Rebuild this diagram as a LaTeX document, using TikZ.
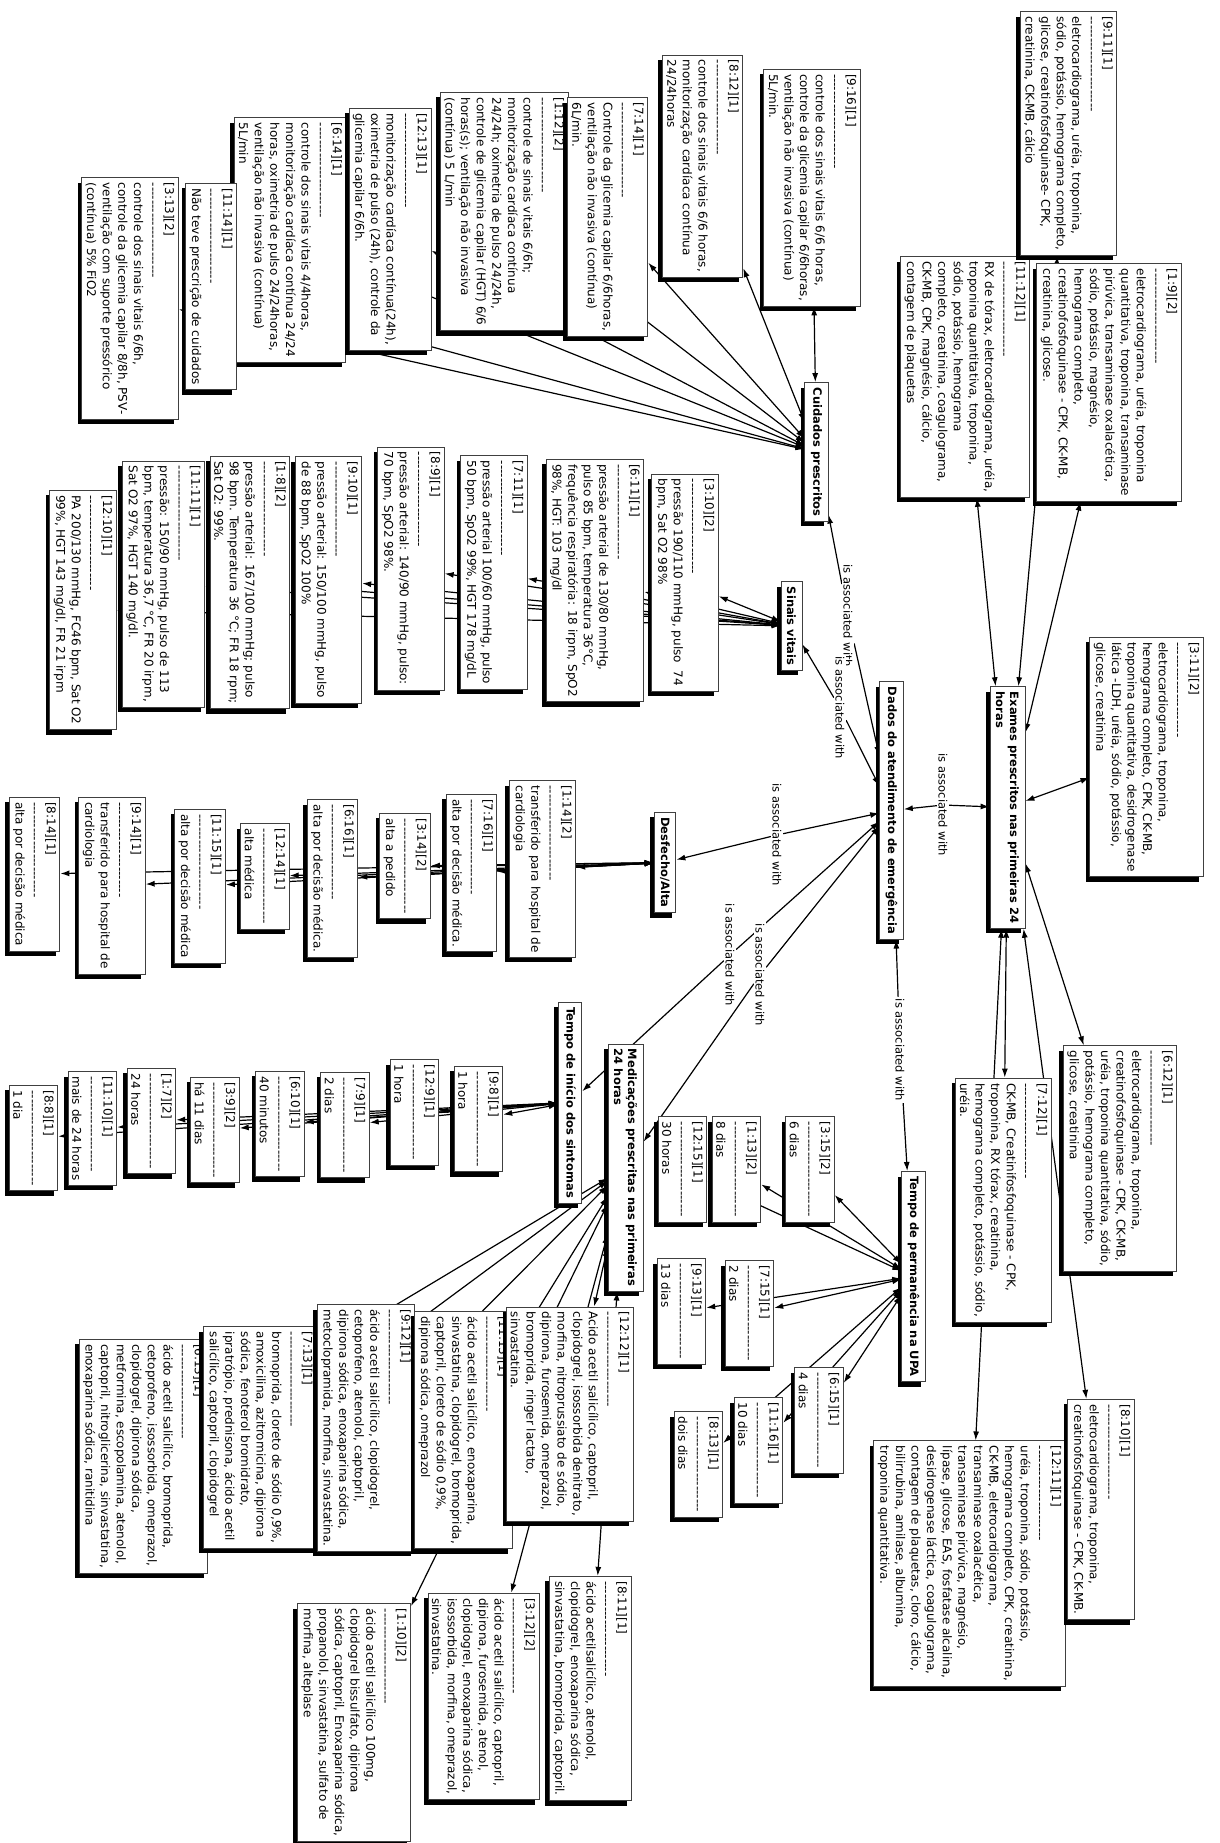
\documentclass[tikz,border=0pt]{standalone}
\usepackage{fontspec}
\setmainfont{DejaVu Sans}
\usetikzlibrary{shadows,arrows.meta}
\pgfdeclarelayer{paper}
\pgfdeclarelayer{links}
\pgfsetlayers{paper,links,main}
\newcommand\dsh{-{}-{}-{}-{}-{}-{}-{}-{}-{}-{}-{}-{}-{}-{}-{}-{}-{}-{}-{}-{}-{}-{}}
\tikzset{
  card/.style={draw=black!75, line width=0.9pt, fill=white, rotate=-90, align=left,
    font=\fontsize{12}{15.6}\selectfont, inner xsep=5pt, inner ysep=4pt,
    drop shadow={shadow xshift=-4pt, shadow yshift=-5pt, fill=black, opacity=1}},
  concept/.style={card, font=\fontsize{11.5}{14}\selectfont\bfseries, inner xsep=5pt, inner ysep=6pt},
  phrase/.style={rotate=-90, fill=white, inner sep=1.5pt, font=\fontsize{11.5}{14}\selectfont},
  link/.style={line width=1.2pt, {Latex[length=9pt,width=6pt]}-{Latex[length=9pt,width=6pt]}},
  tolink/.style={line width=1.2pt, -{Latex[length=9pt,width=6pt]}},
}
\begin{document}
\begin{tikzpicture}[x=1pt,y=-1pt]
\begin{pgfonlayer}{paper}
\fill[white] (0,0) rectangle (1219,1843);
\end{pgfonlayer}
\useasboundingbox (0,0) rectangle (1219,1843);

% ---------- main concepts ----------
\node[concept] (dados) at (891.5,810.5) {Dados do atendimento de emergência};
\node[concept] (exames) at (1007.5,807.5) {Exames prescritos nas primeiras 24\\horas};
\node[concept] (cuid) at (816.5,452) {Cuidados prescritos};
\node[concept] (sinais) at (791.5,626) {Sinais vitais};
\node[concept] (desf) at (665,862.5) {Desfecho/Alta};
\node[concept] (tini) at (570,1102.5) {Tempo de início dos sintomas};
\node[concept] (med) at (625.5,1167.5) {Medicações prescritas nas primeiras\\24 horas};
\node[concept] (tperm) at (913.5,1276.5) {Tempo de permanência na UPA};

% ---------- linking phrases ----------
\node[phrase] (l1) at (848,616) {is associated with};
\node[phrase] (l2) at (840,708) {is associated with};
\node[phrase] (l3) at (777,835) {is associated with};
\node[phrase] (l4) at (760,975) {is associated with};
\node[phrase] (l5) at (730,955) {is associated with};
\node[phrase] (l6) at (943,805) {is associated with};
\node[phrase] (l7) at (900,1050) {is associated with};

% ---------- cuidados ----------
\node[card] (c313) at (130,298.5) {[3:13][2]\\\dsh\\controle dos sinais vitais 6/6h,\\controle da glicemia capilar 8/8h, PSV-\\ventilação com suporte pressórico\\(contínua) 5\% FiO2};
\node[card] (c614) at (290,240) {[6:14][1]\\\dsh\\controle dos sinais vitais 4/4horas,\\monitorização cardíaca contínua 24/24\\horas, oximetria de pulso 24/24horas,\\ventilação não invasiva (contínua)\\5L/min};
\node[card] (c1114) at (211,286.5) {[11:14][1]\\\dsh\\Não teve prescrição de cuidados};
\node[card] (c1213) at (390,229) {[12:13][1]\\\dsh\\monitorização cardíaca contínua(24h),\\oximetria de pulso (24h), controle da\\glicemia capilar 6/6h.};
\node[card] (c112) at (504,211.5) {[1:12][2]\\\dsh\\controle de sinais vitais 6/6h;\\monitorização cardíaca contínua\\24/24h; oximetria de pulso 24/24h,\\controle de glicemia capilar (HGT) 6/6\\horas(s); ventilação não invasiva\\(contínua) 5 L/min};
\node[card] (c714) at (607.5,217) {[7:14][1]\\\dsh\\Controle da glicemia capilar 6/6horas,\\ventilação não invasiva (contínua)\\6L/min.};
\node[card] (c812) at (702.5,166) {[8:12][1]\\\dsh\\controle dos sinais vitais 6/6 horas,\\monitorização cardíaca contínua\\24/24horas};
\node[card] (c916) at (812,187.5) {[9:16][1]\\\dsh\\controle dos sinais vitais 6/6 horas,\\controle da glicemia capilar 6/6horas,\\ventilação não invasiva (contínua)\\5L/min.};

% ---------- exames ----------
\node[card] (e1112) at (965,377) {[11:12][1]\\\dsh\\RX de tórax, eletrocardiograma, uréia,\\troponina quantitativa, troponina,\\sódio, potássio, hemograma\\completo, creatinina, coagulograma,\\CK-MB, CPK, magnésio, cálcio,\\contagem de plaquetas};
\node[card] (e911) at (1068.5,133.5) {[9:11][1]\\\dsh\\eletrocardiograma, uréia, troponina,\\sódio, potássio, hemograma completo,\\glicose, creatinofosfoquinase- CPK,\\creatinina, CK-MB, cálcio};
\node[card] (e19) at (1109,382.5) {[1:9][2]\\\dsh\\eletrocardiograma, uréia, troponina\\quantitativa, troponina, transaminase\\pirúvica, transaminase oxalacética,\\sódio, potássio, magnésio,\\hemograma completo,\\creatinofosfoquinase - CPK, CK-MB,\\creatinina, glicose.};
\node[card] (e311) at (1146.5,757) {[3:11][2]\\\dsh\\eletrocardiograma, troponina,\\hemograma completo, CPK, CK-MB,\\troponina quantitativa, desidrogenase\\lática -LDH, uréia, sódio, potássio,\\glicose, creatinina};
\node[card] (e712) at (1003.5,1200) {[7:12][1]\\\dsh\\CK-MB, Creatinifosfoquinase - CPK,\\troponina, RX tórax, creatinina,\\hemograma completo, potássio, sódio,\\uréia.};
\node[card] (e612) at (1120,1158.5) {[6:12][1]\\\dsh\\eletrocardiograma, troponina,\\creatinofosfoquinase - CPK, CK-MB,\\uréia, troponina quantitativa, sódio,\\potássio, hemograma completo,\\glicose, creatinina};
\node[card] (e1211) at (969.5,1563.5) {[12:11][1]\\\dsh\\uréia, troponina, sódio, potássio,\\hemograma completo, CPK, creatinina,\\CK-MB, eletrocardiograma,\\transaminase oxalacética,\\transaminase pirúvica, magnésio,\\lípase, glicose, EAS, fosfatase alcalina,\\desidrogenase láctica, coagulograma,\\contagem de plaquetas, cloro, cálcio,\\bilirrubina, amilase, albumina,\\troponina quantitativa.};
\node[card] (e810) at (1101,1509.5) {[8:10][1]\\\dsh\\eletrocardiograma, troponina,\\creatinofosfoquinase - CPK, CK-MB.};

% ---------- sinais vitais ----------
\node[card] (s1210) at (83,610) {[12:10][1]\\\dsh\\PA 200/130 mmHg, FC46 bpm, Sat O2\\99\%, HGT 143 mg/dl, FR 21 irpm};
\node[card] (s1111) at (163.5,584) {[11:11][1]\\\dsh\\pressão: 150/90 mmHg, pulso de 113\\bpm, temperatura 36,7 °C, FR 20 irpm,\\Sat O2 97\%, HGT 140 mg/dl.};
\node[card] (s18) at (250,582.5) {[1:8][2]\\\dsh\\pressão arterial: 167/100 mmHg; pulso\\98 bpm. Temperatura 36 °C; FR 18 rpm;\\Sat O2: 99\%.};
\node[card] (s910) at (328.5,580) {[9:10][1]\\\dsh\\pressão arterial: 150/100 mmHg, pulso\\de 88 bpm, SpO2 100\%};
\node[card] (s89) at (411,568.5) {[8:9][1]\\\dsh\\pressão arterial: 140/90 mmHg, pulso:\\70 bpm, SpO2 98\%.};
\node[card] (s711) at (494,572.5) {[7:11][1]\\\dsh\\pressão arterial 100/60 mmHg, pulso\\50 bpm, SpO2 99\%, HGT 178 mg/dL};
\node[card] (s611) at (595,580.5) {[6:11][1]\\\dsh\\pressão arterial de 130/80 mmHg,\\pulso 85 bpm, temperatura 36°C,\\frequência respiratória: 18 irpm, SpO2\\98\%, HGT: 103 mg/dl};
\node[card] (s310) at (685,582.5) {[3:10][2]\\\dsh\\pressão 190/110 mmHg, pulso\ \ 74\\bpm, Sat O2 98\%};

% ---------- desfecho ----------
\node[card] (d814) at (34.5,874) {[8:14][1]\\\dsh\\alta por decisão médica};
\node[card] (d914) at (112,885.5) {[9:14][1]\\\dsh\\transferido para hospital de\\cardiologia};
\node[card] (d1115) at (200,886) {[11:15][1]\\\dsh\\alta por decisão médica};
\node[card] (d1214) at (265,876.5) {[12:14][1]\\\dsh\\alta médica};
\node[card] (d616) at (332.5,878.5) {[6:16][1]\\\dsh\\alta por decisão médica.};
\node[card] (d314) at (405,866) {[3:14][2]\\\dsh\\alta a pedido};
\node[card] (d716) at (471.5,873) {[7:16][1]\\\dsh\\alta por decisão médica.};
\node[card] (d114) at (542.5,869) {[1:14][2]\\\dsh\\transferido para hospital de\\cardiologia};

% ---------- tempo de inicio ----------
\node[card] (t88) at (33.5,1138) {[8:8][1]\\\dsh\\1 dia};
\node[card] (t1110) at (92.5,1128.5) {[11:10][1]\\\dsh\\mais de 24 horas};
\node[card] (t17) at (151.5,1121) {[1:7][2]\\\dsh\\24 horas};
\node[card] (t39) at (215,1130) {[3:9][2]\\\dsh\\há 11 dias};
\node[card] (t610) at (280,1124) {[6:10][1]\\\dsh\\40 minutos};
\node[card] (t79) at (345,1125) {[7:9][1]\\\dsh\\2 dias};
\node[card] (t129) at (414.5,1112.5) {[12:9][1]\\\dsh\\1 hora};
\node[card] (t98) at (478.5,1119) {[9:8][1]\\\dsh\\1 hora};

% ---------- medicacoes ----------
\node[card] (m613) at (143.5,1456) {[6:13][1]\\\dsh\\ácido acetil salicílico, bromoprida,\\cetoprofeno, isossorbida, omeprazol,\\clopidogrel, dipirona sódica,\\metformina, escopolamina, atenolol,\\captopril, nitroglicerina, sinvastatina,\\enoxaparina sódica, ranitidina};
\node[card] (m713) at (260,1437.5) {[7:13][1]\\\dsh\\bromoprida, cloreto de sódio 0,9\%,\\amoxicilina, azitromicina, dipirona\\sódica, fenoterol bromidrato,\\ipratrópio, prednisona, ácido acetil\\salicílico, captopril, clopidogrel};
\node[card] (m912) at (366,1428) {[9:12][1]\\\dsh\\ácido acetil salicílico, clopidogrel,\\cetoprofeno, atenolol, captopril,\\dipirona sódica, enoxaparina sódica,\\metoclopramida, morfina, sinvastatina.};
\node[card] (m1113) at (463.5,1430) {[11:13][1]\\\dsh\\ácido acetil salicílico, enoxaparina,\\sinvastatina, clopidogrel, bromoprida,\\captopril, cloreto de sódio 0,9\%,\\dipirona sódica, omeprazol};
\node[card] (m1212) at (570,1414) {[12:12][1]\\\dsh\\Acido acetil salicílico, captopril,\\clopidogrel, isossorbida denitrato,\\morfina, nitroprussiato de sódio,\\dipirona, furosemida, omeprazol,\\bromoprida, ringer lactato,\\sinvastatina.};
\node[card] (m110) at (354,1722.5) {[1:10][2]\\\dsh\\ácido acetil salicílico 100mg,\\clopidogrel bissulfato, dipirona\\sódica, captopril, Enoxaparina sódica,\\propanolol, sinvastatina, sulfato de\\morfina, alteplase};
\node[card] (m312) at (483.5,1696.5) {[3:12][2]\\\dsh\\ácido acetil salicílico, captopril,\\dipirona, furosemida, atenol,\\clopidogrel, enoxaparina sódica,\\isossorbida, morfina, omeprazol,\\sinvastatina.};
\node[card] (m811) at (590,1688.5) {[8:11][1]\\\dsh\\ácido acetilsalicílico, atenolol,\\clopidogrel, enoxaparina sódica,\\sinvastatina, bromoprida, captopril.};

% ---------- tempo de permanencia ----------
\node[card] (p913) at (681.5,1311.5) {[9:13][1]\\\dsh\\13 dias};
\node[card] (p1215) at (682.5,1169.5) {[12:15][1]\\\dsh\\30 horas};
\node[card] (p813) at (698.5,1464.5) {[8:13][1]\\\dsh\\dois dias};
\node[card] (p113) at (736.5,1169.5) {[1:13][2]\\\dsh\\8 dias};
\node[card] (p715) at (749.5,1313.5) {[7:15][1]\\\dsh\\2 dias};
\node[card] (p1116) at (758.5,1450.5) {[11:16][1]\\\dsh\\10 dias};
\node[card] (p315) at (810,1169.5) {[3:15][2]\\\dsh\\6 dias};
\node[card] (p615) at (819,1420.5) {[6:15][1]\\\dsh\\4 dias};

% ---------- connectors (under the boxes) ----------
\begin{pgfonlayer}{links}
\draw[tolink] (l1) -- (cuid);  \draw[tolink] (l1) -- (dados);
\draw[tolink] (l2) -- (sinais);\draw[tolink] (l2) -- (dados);
\draw[tolink] (l3) -- (desf);  \draw[tolink] (l3) -- (dados);
\draw[tolink] (l4) -- (med);   \draw[tolink] (l4) -- (dados);
\draw[tolink] (l5) -- (tini);  \draw[tolink] (l5) -- (dados);
\draw[tolink] (l6) -- (exames);\draw[tolink] (l6) -- (dados);
\draw[tolink] (l7) -- (tperm); \draw[tolink] (l7) -- (dados);
\foreach \n in {c313,c1114,c614,c1213,c112,c714,c812,c916}
  \draw[link] (\n) -- (cuid);
\foreach \n in {e1112,e911,e19,e311,e712,e612,e1211,e810}
  \draw[link] (\n) -- (exames);
\foreach \n in {s1210,s1111,s18,s910,s89,s711,s611,s310}
  \draw[link] (\n) -- (sinais);
\foreach \n in {d814,d914,d1115,d1214,d616,d314,d716,d114}
  \draw[link] (\n) -- (desf);
\foreach \n in {t88,t1110,t17,t39,t610,t79,t129,t98}
  \draw[link] (\n) -- (tini);
\foreach \n in {m613,m713,m912,m1113,m1212,m110,m312,m811}
  \draw[link] (\n) -- (med);
\foreach \n in {p913,p1215,p813,p113,p715,p1116,p315,p615}
  \draw[link] (\n) -- (tperm);
\end{pgfonlayer}
\end{tikzpicture}
\end{document}
